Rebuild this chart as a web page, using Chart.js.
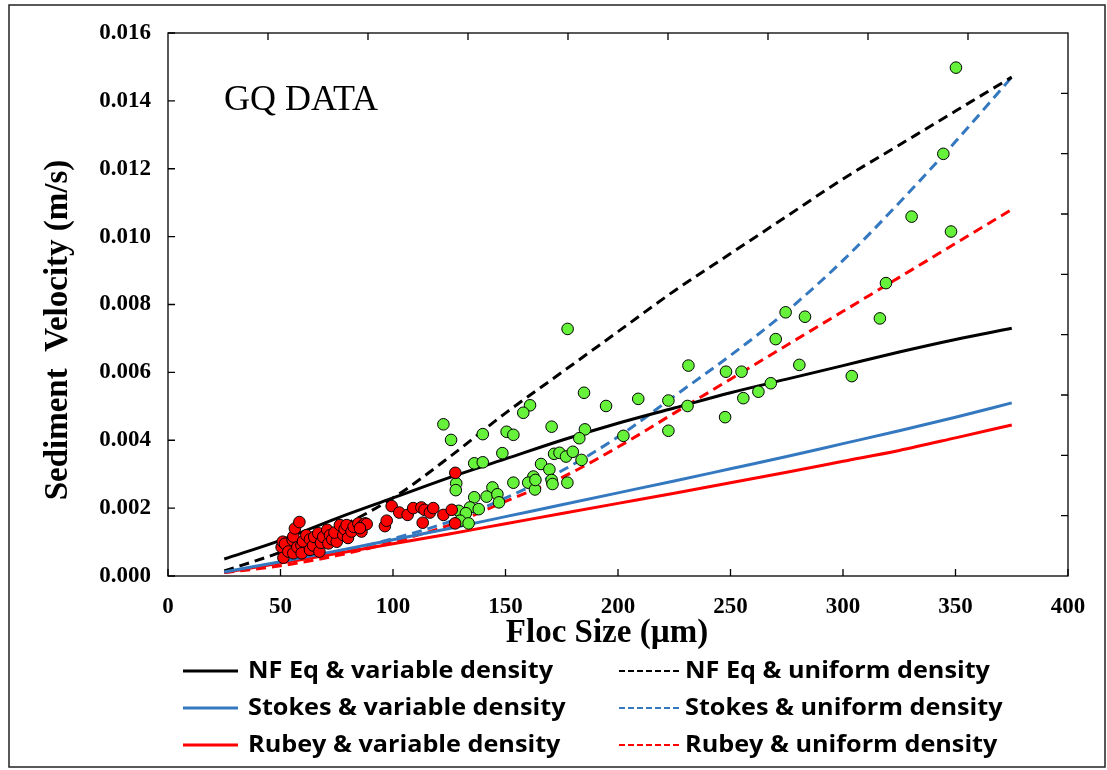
<!DOCTYPE html>
<html>
<head>
<meta charset="utf-8">
<title>GQ DATA - settling velocity</title>
<script src="https://cdn.jsdelivr.net/npm/chart.js@4.4.1/dist/chart.umd.min.js"></script>
<style>
  html, body { margin: 0; padding: 0; background: #fff; }
  #chartCanvas { display: block; }
</style>
</head>
<body>
<canvas id="chartCanvas" width="1107" height="770"></canvas>
<script>
// model curves, sampled every 25 µm
const curveX = [25, 50, 75, 100, 125, 150, 175, 200, 225, 250, 275, 300, 325, 350, 375];
const nfVariable = [0.0005, 0.00105, 0.0017, 0.0023, 0.0029, 0.00345, 0.0040, 0.0045, 0.00495, 0.0054, 0.0058, 0.0062, 0.0066, 0.00697, 0.0073];
const nfUniform = [0.00015, 0.0007, 0.0014, 0.0023, 0.0035, 0.0048, 0.0060, 0.0072, 0.0084, 0.0095, 0.0106, 0.0117, 0.0127, 0.0137, 0.0147];
const stokesVariable = [0.00012, 0.00042, 0.00074, 0.00107, 0.0014, 0.00175, 0.0021, 0.00245, 0.0028, 0.00316, 0.00352, 0.0039, 0.00428, 0.00468, 0.0051];
const stokesUniform = [0.0001, 0.0004, 0.0007, 0.0011, 0.0016, 0.0023, 0.0031, 0.0041, 0.0053, 0.0065, 0.0078, 0.0093, 0.0110, 0.0128, 0.0147];
const rubeyVariable = [0.0001, 0.00038, 0.00066, 0.00095, 0.00124, 0.00154, 0.00184, 0.00214, 0.00244, 0.00275, 0.00306, 0.00338, 0.0037, 0.00407, 0.00445];
const rubeyUniform = [0.0001, 0.0003, 0.0006, 0.0010, 0.0015, 0.0022, 0.0029, 0.0038, 0.0048, 0.0058, 0.0068, 0.0078, 0.0088, 0.0098, 0.0108];

// measured flocs [size µm, velocity m/s]
const redPoints = [
    [50.5, 0.00085], [51, 0.00101], [51.3, 0.00054], [52, 0.00095], [53.5, 0.00072], [55.4, 0.00106],
    [55.7, 0.00116], [55.7, 0.00067], [56.4, 0.0014], [58.4, 0.00159], [57.5, 0.00085], [59.3, 0.00091],
    [59.4, 0.00067], [60, 0.00102], [61.5, 0.0012], [63.1, 0.00108], [63.1, 0.00077], [64.5, 0.0009],
    [65, 0.00115], [66.8, 0.00126], [67.3, 0.00072], [68, 0.00098], [69, 0.00115], [70.8, 0.00136],
    [71.3, 0.00096], [72, 0.0012], [73, 0.00108], [75, 0.00101], [74, 0.00128], [76.4, 0.0015],
    [77.9, 0.00121], [78.5, 0.00138], [79.4, 0.0015], [80, 0.00112], [81.6, 0.00131], [82.5, 0.00145],
    [84.6, 0.00155], [86, 0.00131], [86.5, 0.00148], [87.6, 0.00155], [88.3, 0.00153], [85.3, 0.00141],
    [96.4, 0.00147], [97.2, 0.00163], [99.4, 0.00206], [102.8, 0.00187], [106.5, 0.0018], [109, 0.002],
    [112.6, 0.00202], [114, 0.00195], [113.2, 0.00157], [116.4, 0.00187], [117.9, 0.002], [122.4, 0.0018],
    [126.1, 0.00195], [127.6, 0.00155], [127.7, 0.00304]
];
const greenPoints = [
    [122.4, 0.00447], [125.8, 0.00401], [139.9, 0.00418], [136.1, 0.00332], [139.9, 0.00335], [128.1, 0.00273],
    [127.9, 0.00253], [144.2, 0.00261], [136.1, 0.00232], [141.6, 0.00234], [134.2, 0.00202], [138.1, 0.00197],
    [129.2, 0.00192], [132.4, 0.00185], [129.8, 0.00163], [133.6, 0.00155], [146.4, 0.00241], [147.1, 0.00217],
    [177.6, 0.00728], [184.9, 0.0054], [194.7, 0.00501], [160.9, 0.00503], [157.9, 0.00481], [170.5, 0.0044],
    [185.3, 0.00432], [182.8, 0.00406], [202.4, 0.00413], [150.5, 0.00425], [153.5, 0.00416], [148.6, 0.00362],
    [171.6, 0.0036], [174, 0.00363], [176.9, 0.00352], [179.9, 0.00366], [183.8, 0.00342], [165.8, 0.0033],
    [169.5, 0.00314], [153.5, 0.00275], [162.4, 0.00293], [160.1, 0.00275], [163.1, 0.00255], [163.3, 0.00283],
    [170.5, 0.00283], [170.9, 0.00271], [177.5, 0.00275],
    [274.5, 0.00777], [283.1, 0.00764], [270.1, 0.00698], [280.6, 0.00622], [231.3, 0.0062], [248, 0.00602],
    [254.9, 0.00602], [267.9, 0.00568], [262.4, 0.00543], [255.7, 0.00524], [209, 0.00522], [222.4, 0.00517],
    [230.9, 0.00501], [247.6, 0.00468], [222.4, 0.00428],
    [350.2, 0.01498], [344.6, 0.01244], [330.5, 0.01059], [348, 0.01015], [319.1, 0.00863], [316.4, 0.00759],
    [303.9, 0.00589]
];

const xTicksMax = 400;
const yTicksMax = 0.016;

const SERIF = '"Liberation Serif", "Times New Roman", serif';
const SANS = '"Open Sans", Lato, sans-serif';

function toXY(xs, ys) {
    return xs.map((x, i) => ({ x: x, y: ys[i] }));
}
function pairs(list) {
    return list.map(p => ({ x: p[0], y: p[1] }));
}

function curve(label, ys, color, dashed, legendCol, legendRow) {
    return {
        label: label,
        data: toXY(curveX, ys),
        showLine: true,
        borderColor: color,
        backgroundColor: color,
        borderWidth: 3,
        borderDash: dashed ? [10, 6] : [],
        pointRadius: 0,
        pointHoverRadius: 0,
        cubicInterpolationMode: 'monotone',
        fill: false,
        legendCol: legendCol,
        legendRow: legendRow,
    };
}

const BLUE = '#3478c0';

// draws plot box, inward ticks, the outer frame, axis titles, the "GQ DATA" note and the legend
const decorPlugin = {
    id: 'decor',
    afterDraw(chart) {
        const { ctx, chartArea: a, scales } = chart;
        ctx.save();

        // outer figure frame
        ctx.strokeStyle = '#222';
        ctx.lineWidth = 1.5;
        ctx.strokeRect(9, 5, 1096, 762);

        // plot box
        ctx.strokeStyle = '#000';
        ctx.lineWidth = 1.3;
        ctx.strokeRect(a.left, a.top, a.right - a.left, a.bottom - a.top);

        // tick marks, pointing inside
        const tl = 7;
        ctx.beginPath();
        scales.x.ticks.forEach(t => {
            const px = scales.x.getPixelForValue(t.value);
            ctx.moveTo(px, a.bottom);
            ctx.lineTo(px, a.bottom - tl);
        });
        scales.y.ticks.forEach(t => {
            const py = scales.y.getPixelForValue(t.value);
            ctx.moveTo(a.left, py);
            ctx.lineTo(a.left + tl, py);
        });
        // secondary axes (right / top) carry 9 divisions
        for (let i = 1; i < 9; i++) {
            const py = a.top + (a.bottom - a.top) * i / 9;
            ctx.moveTo(a.right, py);
            ctx.lineTo(a.right - tl, py);
            const px = a.left + (a.right - a.left) * i / 9;
            ctx.moveTo(px, a.top);
            ctx.lineTo(px, a.top + tl);
        }
        ctx.stroke();

        ctx.fillStyle = '#000';

        // axis titles
        ctx.font = 'bold 33px ' + SERIF;
        ctx.textAlign = 'center';
        ctx.textBaseline = 'middle';
        ctx.fillText('Floc Size (µm)', 607, 633);
        ctx.save();
        ctx.translate(58, 330);
        ctx.rotate(-Math.PI / 2);
        ctx.fillText('Sediment  Velocity (m/s)', 0, 0);
        ctx.restore();

        // data set note
        ctx.font = '36px ' + SERIF;
        ctx.textAlign = 'left';
        ctx.textBaseline = 'alphabetic';
        ctx.fillText('GQ DATA', 224, 110);

        // legend, two columns of three rows
        const colLine = [[183, 238], [619, 680]];
        const colText = [248, 685];
        const rowY = [671, 708, 745];
        ctx.font = 'bold 23px ' + SANS;
        ctx.textBaseline = 'middle';
        const stretch = 305 / ctx.measureText('NF Eq & variable density').width;
        chart.data.datasets.forEach(ds => {
            if (ds.legendCol === undefined) return;
            const y = rowY[ds.legendRow];
            const [x0, x1] = colLine[ds.legendCol];
            ctx.beginPath();
            ctx.strokeStyle = ds.borderColor;
            ctx.lineWidth = ds.borderDash.length ? 2.2 : 3;
            ctx.setLineDash(ds.borderDash.length ? [6, 3] : []);
            ctx.moveTo(x0, y);
            ctx.lineTo(x1, y);
            ctx.stroke();
            ctx.setLineDash([]);
            ctx.save();
            ctx.translate(colText[ds.legendCol], y);
            ctx.scale(stretch, 1);
            ctx.fillText(ds.label, 0, 0);
            ctx.restore();
        });
        ctx.restore();
    }
};

const ctx = document.getElementById('chartCanvas').getContext('2d');
new Chart(ctx, {
    type: 'scatter',
    data: {
        datasets: [
            {
                label: 'Red flocs',
                data: pairs(redPoints),
                backgroundColor: '#ff0000',
                borderColor: '#000',
                borderWidth: 1,
                pointRadius: 5.8,
                pointHoverRadius: 5.8,
            },
            {
                label: 'Green flocs',
                data: pairs(greenPoints),
                backgroundColor: '#66f23a',
                borderColor: '#000',
                borderWidth: 1,
                pointRadius: 5.8,
                pointHoverRadius: 5.8,
            },
            curve('NF Eq & variable density', nfVariable, '#000000', false, 0, 0),
            curve('Stokes & variable density', stokesVariable, BLUE, false, 0, 1),
            curve('Rubey & variable density', rubeyVariable, '#ff0000', false, 0, 2),
            curve('NF Eq & uniform density', nfUniform, '#000000', true, 1, 0),
            curve('Stokes & uniform density', stokesUniform, BLUE, true, 1, 1),
            curve('Rubey & uniform density', rubeyUniform, '#ff0000', true, 1, 2),
        ]
    },
    options: {
        responsive: false,
        animation: false,
        devicePixelRatio: 1,
        layout: { padding: { top: 33, right: 39, left: 0, bottom: 0 } },
        plugins: {
            legend: { display: false },
            tooltip: { enabled: false },
        },
        scales: {
            x: {
                type: 'linear',
                min: 0,
                max: xTicksMax,
                afterFit: s => { s.height = 194; },
                grid: { display: false, drawTicks: false },
                border: { display: false },
                ticks: {
                    stepSize: 50,
                    padding: 17,
                    color: '#000',
                    font: { family: SERIF, size: 23, weight: 'bold' },
                },
            },
            y: {
                type: 'linear',
                min: 0,
                max: yTicksMax,
                afterFit: s => { s.width = 168; },
                grid: { display: false, drawTicks: false },
                border: { display: false },
                ticks: {
                    stepSize: 0.002,
                    padding: 17,
                    color: '#000',
                    font: { family: SERIF, size: 23, weight: 'bold' },
                    callback: v => v.toFixed(3),
                },
            },
        },
    },
    plugins: [decorPlugin],
});
</script>
</body>
</html>
